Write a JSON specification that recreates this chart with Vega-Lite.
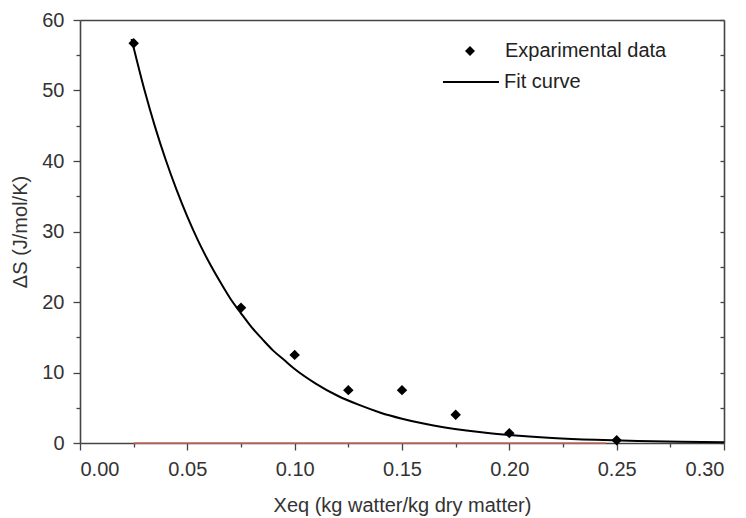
{
  "$schema": "https://vega.github.io/schema/vega-lite/v6.json",
  "autosize": "none",
  "padding": {"left": 80, "top": 20, "right": 22, "bottom": 75},
  "width": 644,
  "height": 423,
  "background": "white",
  "config": {
    "view": {"stroke": null},
    "font": "Liberation Sans",
    "axis": {"grid": false, "domainColor": "#444", "domainWidth": 1.6, "tickColor": "#444", "tickWidth": 1.3, "labelFont": "Liberation Sans", "labelFontSize": 20, "labelColor": "#333", "titleFont": "Liberation Sans", "titleFontSize": 20, "titleFontWeight": "normal", "titleColor": "#333"},
    "legend": {"labelFont": "Liberation Sans", "labelFontSize": 20, "labelColor": "#222", "padding": 0, "labelLimit": 400}
  },
  "datasets": {
    "exp": [
      {"x": 0.025, "dS": 56.7, "series": "Exparimental data"},
      {"x": 0.075, "dS": 19.2, "series": "Exparimental data"},
      {"x": 0.1, "dS": 12.5, "series": "Exparimental data"},
      {"x": 0.125, "dS": 7.5, "series": "Exparimental data"},
      {"x": 0.15, "dS": 7.5, "series": "Exparimental data"},
      {"x": 0.175, "dS": 4.0, "series": "Exparimental data"},
      {"x": 0.2, "dS": 1.4, "series": "Exparimental data"},
      {"x": 0.25, "dS": 0.4, "series": "Exparimental data"}
    ],
    "fit": [
      {"x": 0.024, "dS": 57.3, "series": "Fit curve"},
      {"x": 0.03, "dS": 50.1, "series": "Fit curve"},
      {"x": 0.035, "dS": 44.8, "series": "Fit curve"},
      {"x": 0.04, "dS": 40.1, "series": "Fit curve"},
      {"x": 0.045, "dS": 35.9, "series": "Fit curve"},
      {"x": 0.05, "dS": 32.1, "series": "Fit curve"},
      {"x": 0.055, "dS": 28.7, "series": "Fit curve"},
      {"x": 0.06, "dS": 25.7, "series": "Fit curve"},
      {"x": 0.065, "dS": 23.0, "series": "Fit curve"},
      {"x": 0.07, "dS": 20.5, "series": "Fit curve"},
      {"x": 0.075, "dS": 18.4, "series": "Fit curve"},
      {"x": 0.08, "dS": 16.4, "series": "Fit curve"},
      {"x": 0.085, "dS": 14.7, "series": "Fit curve"},
      {"x": 0.09, "dS": 13.1, "series": "Fit curve"},
      {"x": 0.095, "dS": 11.8, "series": "Fit curve"},
      {"x": 0.1, "dS": 10.5, "series": "Fit curve"},
      {"x": 0.11, "dS": 8.4, "series": "Fit curve"},
      {"x": 0.12, "dS": 6.7, "series": "Fit curve"},
      {"x": 0.13, "dS": 5.4, "series": "Fit curve"},
      {"x": 0.14, "dS": 4.3, "series": "Fit curve"},
      {"x": 0.15, "dS": 3.45, "series": "Fit curve"},
      {"x": 0.16, "dS": 2.76, "series": "Fit curve"},
      {"x": 0.17, "dS": 2.21, "series": "Fit curve"},
      {"x": 0.18, "dS": 1.77, "series": "Fit curve"},
      {"x": 0.19, "dS": 1.41, "series": "Fit curve"},
      {"x": 0.2, "dS": 1.13, "series": "Fit curve"},
      {"x": 0.22, "dS": 0.72, "series": "Fit curve"},
      {"x": 0.24, "dS": 0.46, "series": "Fit curve"},
      {"x": 0.26, "dS": 0.3, "series": "Fit curve"},
      {"x": 0.28, "dS": 0.19, "series": "Fit curve"},
      {"x": 0.3, "dS": 0.12, "series": "Fit curve"}
    ],
    "zero": [
      {"x": 0.025, "dS": 0},
      {"x": 0.245, "dS": 0}
    ]
  },
  "layer": [
    {
      "data": {"name": "zero"},
      "mark": {"type": "line", "color": "#cc6e5c", "strokeWidth": 1.6},
      "encoding": {
        "x": {"field": "x", "type": "quantitative", "scale": {"domain": [0, 0.3], "nice": false, "zero": false}, "axis": null},
        "y": {"field": "dS", "type": "quantitative", "scale": {"domain": [0, 60], "nice": false}, "axis": null}
      }
    },
    {
      "data": {"name": "fit"},
      "mark": {"type": "line", "strokeWidth": 2, "interpolate": "monotone"},
      "encoding": {
        "x": {"field": "x", "type": "quantitative", "scale": {"domain": [0, 0.3], "nice": false, "zero": false},
          "axis": {"orient": "top", "title": null, "labels": false, "ticks": false, "values": [0, 0.3]}},
        "y": {"field": "dS", "type": "quantitative", "scale": {"domain": [0, 60], "nice": false},
          "axis": {"orient": "right", "title": null, "labels": false, "tickSize": -4, "values": [0, 5, 10, 15, 20, 25, 30, 35, 40, 45, 50, 55, 60]}},
        "stroke": {"field": "series", "type": "nominal", "scale": {"range": ["black"]},
          "legend": {"orient": "none", "legendX": 362, "legendY": 33, "title": null, "symbolType": "stroke", "symbolSize": 3136, "symbolStrokeWidth": 2, "labelOffset": 4}}
      }
    },
    {
      "data": {"name": "exp"},
      "mark": {"type": "point", "filled": true, "color": "black", "size": 110, "opacity": 1},
      "encoding": {
        "x": {"field": "x", "type": "quantitative", "scale": {"domain": [0, 0.3], "nice": false, "zero": false},
          "axis": {"orient": "bottom", "title": "Xeq (kg watter/kg dry matter)", "titlePadding": 16, "labelPadding": 9,
            "values": [0, 0.025, 0.05, 0.075, 0.1, 0.125, 0.15, 0.175, 0.2, 0.225, 0.25, 0.275, 0.3],
            "labelExpr": "round(datum.value*40) % 2 == 0 ? format(datum.value, '.2f') : ''",
            "tickSize": {"condition": {"test": "round(datum.value*40) % 2 == 1", "value": 4}, "value": 7}}},
        "y": {"field": "dS", "type": "quantitative", "scale": {"domain": [0, 60], "nice": false},
          "axis": {"orient": "left", "title": "ΔS (J/mol/K)", "titlePadding": 11, "labelPadding": 9,
            "values": [0, 5, 10, 15, 20, 25, 30, 35, 40, 45, 50, 55, 60],
            "labelExpr": "datum.value % 10 == 0 ? datum.label : ''",
            "tickSize": {"condition": {"test": "datum.value % 10 != 0", "value": 4}, "value": 7}}},
        "shape": {"field": "series", "type": "nominal", "scale": {"range": ["diamond"]},
          "legend": {"orient": "none", "legendX": 380, "legendY": 21, "title": null, "symbolSize": 100, "symbolFillColor": "black", "symbolStrokeColor": "black", "labelOffset": 25}}
      }
    }
  ],
  "resolve": {"axis": {"x": "independent", "y": "independent"}}
}
